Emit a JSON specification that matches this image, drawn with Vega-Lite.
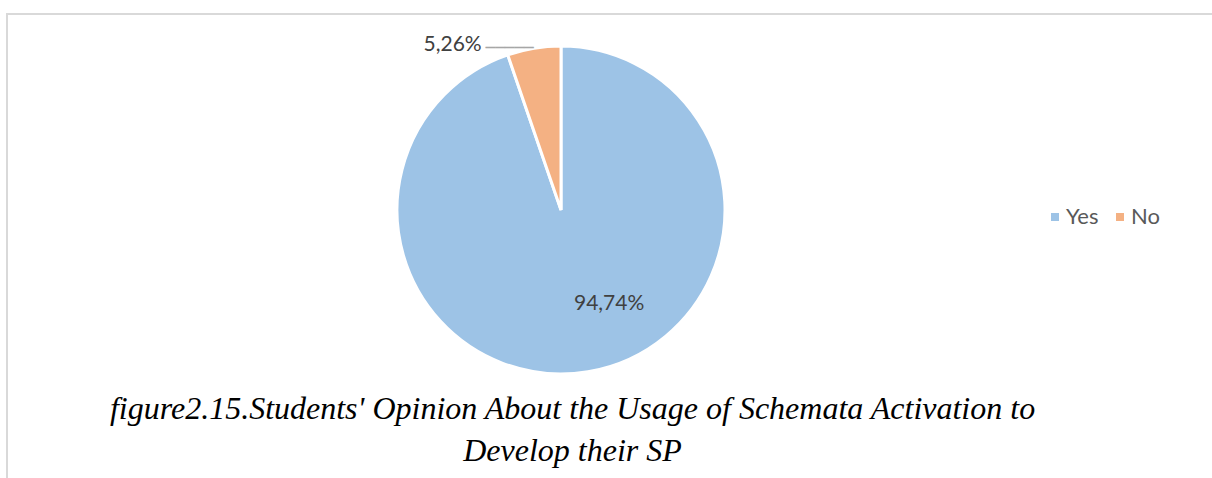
{
  "$schema": "https://vega.github.io/schema/vega-lite/v6.json",
  "width": 1207,
  "height": 466,
  "padding": {"left": 7, "top": 14, "right": 0, "bottom": 0},
  "background": "white",
  "view": {"stroke": "#d9d9d9", "strokeWidth": 2},
  "config": {
    "view": {"stroke": "#d9d9d9", "strokeWidth": 2},
    "font": "Lato"
  },
  "title": {
    "text": ["figure2.15.Students' Opinion About the Usage of Schemata Activation to", "Develop their SP"],
    "orient": "bottom",
    "anchor": "middle",
    "offset": -86,
    "dx": -38,
    "font": "Liberation Serif",
    "fontStyle": "italic",
    "fontWeight": "normal",
    "fontSize": 32,
    "lineHeight": 42,
    "color": "#000000"
  },
  "data": {
    "values": [
      {"category": "Yes", "value": 94.74, "label": "94,74%"},
      {"category": "No", "value": 5.26, "label": "5,26%"}
    ]
  },
  "encoding": {
    "theta": {"field": "value", "type": "quantitative", "stack": true},
    "order": {"field": "category", "sort": "descending"}
  },
  "layer": [
    {
      "mark": {"type": "arc", "radius": 164, "stroke": "white", "strokeWidth": 3, "xOffset": -49.5, "yOffset": -37},
      "encoding": {
        "color": {
          "field": "category",
          "type": "nominal",
          "scale": {"domain": ["Yes", "No"], "range": ["#9DC3E6", "#F4B183"]},
          "legend": {
            "title": null,
            "orient": "none",
            "direction": "horizontal",
            "legendX": 1037,
            "legendY": 192,
            "symbolType": "square",
            "symbolSize": 64,
            "symbolStrokeWidth": 0,
            "labelFont": "Lato",
            "labelFontSize": 22,
            "labelColor": "#595959",
            "labelOffset": 0,
            "columnPadding": 10,
            "padding": 0
          }
        }
      }
    },
    {
      "transform": [{"filter": "datum.category == 'Yes'"}],
      "mark": {"type": "text", "radius": 104, "xOffset": -49.5, "yOffset": -37, "dx": 31, "dy": -9, "fontSize": 21, "font": "Lato", "color": "#404040"},
      "encoding": {"text": {"field": "label"}}
    },
    {
      "mark": {"type": "text", "radius": 180, "xOffset": -49.5, "yOffset": -37, "dx": -138, "dy": 13, "fontSize": 21, "font": "Lato", "color": "#404040"},
      "transform": [{"filter": "datum.category == 'No'"}],
      "encoding": {"text": {"field": "label"}}
    },
    {
      "mark": {"type": "text", "radius": 180, "xOffset": -49.5, "yOffset": -37, "dx": -81, "dy": 16, "fontSize": 16, "font": "DejaVu Sans Mono", "color": "#a6a6a6", "text": "─────"},
      "transform": [{"filter": "datum.category == 'No'"}]
    }
  ]
}
